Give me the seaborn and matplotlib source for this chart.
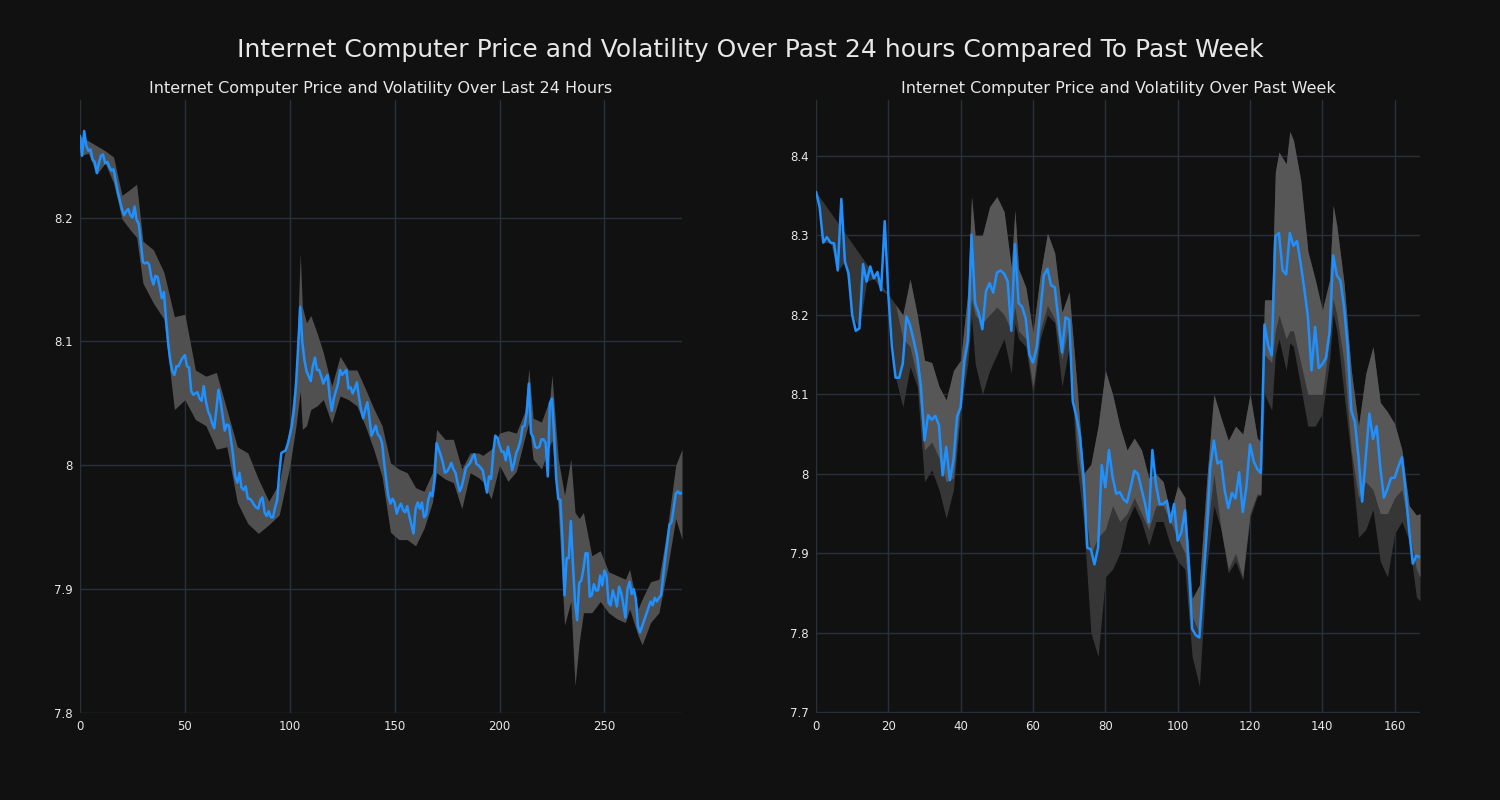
import matplotlib
matplotlib.use("Agg")
import matplotlib.pyplot as plt
from matplotlib.ticker import FuncFormatter
import seaborn as sns
import numpy as np
import pandas as pd

# ---------------- data ----------------
main_title = "Internet Computer Price and Volatility Over Past 24 hours Compared To Past Week"
title_24h = "Internet Computer Price and Volatility Over Last 24 Hours"
title_week = "Internet Computer Price and Volatility Over Past Week"

price_24h = [
    8.266, 8.250, 8.270, 8.258, 8.254, 8.255, 8.247, 8.245, 8.236, 8.244,
    8.250, 8.251, 8.244, 8.245, 8.241, 8.238, 8.239, 8.230, 8.221, 8.214,
    8.207, 8.202, 8.205, 8.207, 8.202, 8.200, 8.209, 8.198, 8.195, 8.180,
    8.164, 8.163, 8.164, 8.162, 8.152, 8.146, 8.153, 8.152, 8.144, 8.135,
    8.140, 8.118, 8.099, 8.085, 8.076, 8.073, 8.080, 8.080, 8.084, 8.087,
    8.089, 8.080, 8.079, 8.060, 8.057, 8.058, 8.059, 8.054, 8.052, 8.064,
    8.052, 8.044, 8.040, 8.034, 8.030, 8.045, 8.061, 8.052, 8.040, 8.028,
    8.033, 8.032, 8.020, 8.008, 7.991, 7.986, 7.994, 7.982, 7.980, 7.983,
    7.973, 7.973, 7.971, 7.968, 7.966, 7.965, 7.972, 7.974, 7.962, 7.959,
    7.963, 7.958, 7.958, 7.966, 7.972, 7.994, 8.010, 8.011, 8.012, 8.017,
    8.024, 8.032, 8.045, 8.066, 8.096, 8.128, 8.099, 8.085, 8.076, 8.072,
    8.068, 8.080, 8.087, 8.077, 8.077, 8.072, 8.066, 8.070, 8.073, 8.056,
    8.044, 8.054, 8.060, 8.066, 8.077, 8.073, 8.075, 8.077, 8.062, 8.063,
    8.058, 8.062, 8.067, 8.055, 8.045, 8.038, 8.045, 8.051, 8.038, 8.024,
    8.028, 8.032, 8.025, 8.023, 8.018, 8.002, 7.988, 7.975, 7.969, 7.973,
    7.970, 7.961, 7.966, 7.969, 7.964, 7.962, 7.967, 7.959, 7.952, 7.945,
    7.965, 7.970, 7.965, 7.970, 7.958, 7.960, 7.972, 7.978, 7.975, 7.989,
    8.018, 8.013, 8.008, 8.002, 7.994, 7.995, 7.998, 8.002, 7.997, 7.994,
    7.986, 7.979, 7.983, 7.990, 7.998, 8.000, 8.002, 8.006, 8.009, 8.001,
    8.000, 7.998, 7.996, 7.987, 7.978, 7.991, 7.989, 8.010, 8.024, 8.022,
    8.016, 8.011, 8.011, 8.004, 8.015, 8.007, 7.996, 8.002, 8.010, 8.014,
    8.020, 8.031, 8.032, 8.043, 8.066, 8.026, 8.023, 8.015, 8.014, 8.015,
    8.021, 8.021, 8.018, 7.991, 8.050, 8.054, 8.026, 7.990, 7.973, 7.972,
    7.940, 7.895, 7.925, 7.925, 7.955, 7.920, 7.890, 7.875, 7.905, 7.907,
    7.916, 7.929, 7.929, 7.894, 7.895, 7.904, 7.899, 7.899, 7.911, 7.903,
    7.915, 7.911, 7.889, 7.887, 7.899, 7.893, 7.886, 7.902, 7.897, 7.888,
    7.877, 7.900, 7.906, 7.896, 7.900, 7.892, 7.870, 7.865, 7.870, 7.875,
    7.880, 7.885, 7.890, 7.887, 7.893, 7.890, 7.893, 7.895, 7.910, 7.925,
    7.938, 7.952, 7.954, 7.965, 7.977, 7.979, 7.977, 7.978,
]

band_x_24h = [0, 4, 8, 12, 16, 20, 24, 27, 30, 35, 40, 45, 50, 55, 60, 65, 70,
              75, 80, 85, 90, 95, 100, 103, 105, 106, 108, 110, 113, 116, 120,
              124, 128, 132, 136, 140, 144, 148, 152, 156, 160, 164, 168, 170,
              174, 178, 182, 186, 190, 192, 196, 200, 204, 208, 212, 214, 216,
              220, 224, 225, 228, 231, 234, 236, 238, 240, 244, 248, 252, 256,
              260, 262, 266, 268, 272, 276, 280, 284, 287]
band_hi_24h = [8.266, 8.262, 8.258, 8.254, 8.249, 8.218, 8.223, 8.227, 8.181,
               8.174, 8.156, 8.120, 8.122, 8.077, 8.072, 8.075, 8.045, 8.015,
               8.010, 7.989, 7.971, 7.986, 8.032, 8.075, 8.171, 8.128, 8.115,
               8.121, 8.107, 8.091, 8.064, 8.088, 8.077, 8.077, 8.062, 8.046,
               8.032, 8.002, 7.997, 7.994, 7.982, 7.979, 7.994, 8.029, 8.021,
               8.021, 7.997, 8.010, 8.010, 8.008, 8.013, 8.026, 8.028, 8.026,
               8.043, 8.078, 8.038, 8.035, 8.054, 8.073, 8.005, 7.976, 8.005,
               7.962, 7.957, 7.962, 7.927, 7.931, 7.914, 7.911, 7.908, 7.916,
               7.884, 7.892, 7.906, 7.908, 7.949, 8.000, 8.013]
band_lo_24h = [8.250, 8.252, 8.235, 8.244, 8.228, 8.199, 8.190, 8.184, 8.147,
               8.131, 8.118, 8.045, 8.053, 8.037, 8.032, 8.013, 8.015, 7.970,
               7.953, 7.945, 7.952, 7.960, 7.999, 8.032, 8.060, 8.029, 8.032,
               8.045, 8.048, 8.053, 8.034, 8.056, 8.053, 8.048, 8.032, 8.013,
               7.991, 7.946, 7.940, 7.940, 7.935, 7.949, 7.970, 7.994, 7.989,
               7.986, 7.965, 7.994, 7.990, 7.987, 7.973, 8.000, 7.987, 7.995,
               8.022, 8.035, 8.005, 7.997, 8.016, 8.020, 7.965, 7.871, 7.890,
               7.822, 7.857, 7.881, 7.881, 7.890, 7.881, 7.876, 7.873, 7.884,
               7.863, 7.855, 7.873, 7.881, 7.916, 7.957, 7.940]

price_week = [
    8.355, 8.336, 8.291, 8.298, 8.291, 8.290, 8.256, 8.346, 8.267, 8.252,
    8.200, 8.180, 8.183, 8.264, 8.242, 8.261, 8.246, 8.254, 8.231, 8.318,
    8.225, 8.160, 8.121, 8.121, 8.139, 8.198, 8.187, 8.168, 8.147, 8.110,
    8.042, 8.074, 8.068, 8.073, 8.061, 7.998, 8.034, 7.992, 8.017, 8.072,
    8.084, 8.143, 8.168, 8.301, 8.215, 8.202, 8.182, 8.230, 8.240, 8.228,
    8.253, 8.256, 8.252, 8.242, 8.180, 8.289, 8.215, 8.210, 8.195, 8.150,
    8.140, 8.159, 8.203, 8.250, 8.258, 8.237, 8.235, 8.195, 8.153, 8.197,
    8.194, 8.091, 8.072, 8.047, 7.996, 7.907, 7.905, 7.886, 7.907, 8.011,
    7.983, 8.030, 7.996, 7.975, 7.977, 7.968, 7.964, 7.983, 8.004, 8.000,
    7.981, 7.962, 7.939, 8.030, 7.987, 7.962, 7.962, 7.966, 7.939, 7.962,
    7.916, 7.926, 7.954, 7.890, 7.805, 7.797, 7.794, 7.860, 7.924, 8.008,
    8.042, 8.013, 8.016, 7.979, 7.957, 7.976, 7.969, 8.002, 7.952, 7.984,
    8.037, 8.016, 8.006, 8.001, 8.188, 8.162, 8.149, 8.299, 8.303, 8.256,
    8.251, 8.303, 8.287, 8.293, 8.265, 8.233, 8.198, 8.130, 8.185, 8.133,
    8.138, 8.146, 8.179, 8.275, 8.250, 8.243, 8.210, 8.160, 8.080, 8.065,
    8.021, 7.965, 8.021, 8.076, 8.044, 8.060, 8.009, 7.970, 7.981, 7.995,
    7.995, 8.009, 8.021, 7.979, 7.929, 7.887, 7.897, 7.895,
]

band_x_week = [0, 2, 4, 6, 8, 10, 12, 14, 16, 18, 20, 22, 24, 26, 28, 30, 32,
               34, 36, 38, 40, 42, 43, 44, 46, 48, 50, 52, 54, 55, 56, 58, 60,
               62, 64, 66, 68, 70, 72, 74, 76, 78, 80, 82, 84, 86, 88, 90, 92,
               94, 96, 98, 100, 102, 104, 106, 108, 110, 112, 114, 116, 118,
               120, 122, 123, 124, 126, 127, 128, 130, 131, 132, 134, 136, 138,
               140, 142, 143, 144, 146, 148, 150, 152, 154, 156, 158, 160, 162,
               164, 166, 167]
band_hi_week = [8.355, 8.342, 8.329, 8.316, 8.303, 8.290, 8.277, 8.264, 8.251,
                8.238, 8.226, 8.213, 8.200, 8.245, 8.200, 8.143, 8.140, 8.110,
                8.093, 8.130, 8.143, 8.230, 8.349, 8.300, 8.300, 8.336, 8.349,
                8.330, 8.260, 8.332, 8.258, 8.235, 8.178, 8.250, 8.303, 8.278,
                8.203, 8.229, 8.119, 8.000, 8.012, 8.060, 8.130, 8.100, 8.060,
                8.030, 8.045, 8.030, 7.995, 8.000, 7.990, 7.950, 7.985, 7.970,
                7.843, 7.860, 7.990, 8.100, 8.070, 8.042, 8.060, 8.050, 8.100,
                8.045, 8.040, 8.219, 8.219, 8.380, 8.405, 8.390, 8.431, 8.420,
                8.370, 8.280, 8.245, 8.206, 8.244, 8.338, 8.312, 8.240, 8.130,
                8.060, 8.126, 8.160, 8.090, 8.078, 8.063, 8.030, 7.960, 7.948,
                7.950]
band_mid_week = [8.355, 8.342, 8.329, 8.316, 8.303, 8.290, 8.277, 8.264, 8.251,
                 8.238, 8.226, 8.213, 8.170, 8.160, 8.120, 8.030, 8.040, 8.020,
                 7.990, 7.995, 8.095, 8.160, 8.220, 8.200, 8.190, 8.200, 8.210,
                 8.200, 8.180, 8.210, 8.180, 8.170, 8.110, 8.180, 8.212, 8.195,
                 8.144, 8.190, 8.042, 7.970, 7.900, 7.920, 7.930, 7.960, 7.940,
                 7.950, 7.970, 7.950, 7.930, 7.960, 7.960, 7.940, 7.920, 7.900,
                 7.820, 7.800, 7.920, 8.000, 7.930, 7.880, 7.900, 7.870, 7.950,
                 7.975, 7.974, 8.150, 8.140, 8.180, 8.200, 8.170, 8.180, 8.180,
                 8.140, 8.100, 8.100, 8.100, 8.170, 8.220, 8.200, 8.140, 8.030,
                 7.970, 7.990, 7.980, 7.950, 7.950, 7.970, 7.980, 7.930, 7.880,
                 7.870]
band_lo_week = [8.355, 8.291, 8.291, 8.256, 8.267, 8.200, 8.183, 8.242, 8.246,
                8.231, 8.225, 8.121, 8.084, 8.135, 8.110, 7.990, 8.005, 7.980,
                7.944, 7.980, 8.080, 8.140, 8.198, 8.139, 8.100, 8.130, 8.150,
                8.170, 8.126, 8.189, 8.170, 8.160, 8.100, 8.170, 8.200, 8.190,
                8.110, 8.160, 8.017, 7.940, 7.800, 7.770, 7.870, 7.880, 7.900,
                7.940, 7.960, 7.940, 7.910, 7.940, 7.940, 7.910, 7.890, 7.880,
                7.770, 7.733, 7.880, 7.960, 7.930, 7.875, 7.890, 7.866, 7.945,
                7.972, 7.973, 8.100, 8.080, 8.150, 8.170, 8.130, 8.165, 8.160,
                8.110, 8.060, 8.060, 8.076, 8.143, 8.202, 8.180, 8.100, 8.020,
                7.920, 7.930, 7.955, 7.890, 7.870, 7.925, 7.940, 7.916, 7.845,
                7.840]

x_ticks_24h = [0, 50, 100, 150, 200, 250]
y_ticks_24h = [7.8, 7.9, 8.0, 8.1, 8.2]
x_ticks_week = [0, 20, 40, 60, 80, 100, 120, 140, 160]
y_ticks_week = [7.7, 7.8, 7.9, 8.0, 8.1, 8.2, 8.3, 8.4]

# ---------------- style ----------------
BG = "#111111"
GRID = "#27303c"
LINE = "#1e90ff"
TEXT = "#e8e8e8"

sns.set_theme(style="darkgrid")
plt.rcParams["font.family"] = ["DejaVu Sans"]

fig = plt.figure(figsize=(15, 8), dpi=100, facecolor=BG)
ax1 = fig.add_axes([80 / 1500, 87 / 800, 602 / 1500, 613 / 800])
ax2 = fig.add_axes([816 / 1500, 87 / 800, 604 / 1500, 613 / 800])

df24 = pd.DataFrame({"t": np.arange(len(price_24h)), "price": price_24h})
dfw = pd.DataFrame({"t": np.arange(len(price_week)), "price": price_week})

# left panel
ax1.fill_between(band_x_24h, band_lo_24h, band_hi_24h, color="#505050",
                 linewidth=0, zorder=2)
sns.lineplot(data=df24, x="t", y="price", ax=ax1, color=LINE, linewidth=1.8,
             zorder=3)

# right panel
ax2.fill_between(band_x_week, band_lo_week, band_hi_week, color="#363636",
                 linewidth=0, zorder=2)
ax2.fill_between(band_x_week, band_mid_week, band_hi_week, color="#575757",
                 linewidth=0, zorder=2)
sns.lineplot(data=dfw, x="t", y="price", ax=ax2, color=LINE, linewidth=1.8,
             zorder=3)

fmt = FuncFormatter(lambda v, p: f"{round(v, 4):g}")
for ax, title, xt, yt, xl, yl in [
    (ax1, title_24h, x_ticks_24h, y_ticks_24h, (0, 287), (7.8, 8.295)),
    (ax2, title_week, x_ticks_week, y_ticks_week, (0, 167), (7.699, 8.4705)),
]:
    ax.set_facecolor(BG)
    ax.set_xlim(*xl)
    ax.set_ylim(*yl)
    ax.set_xticks(xt)
    ax.set_yticks(yt)
    ax.yaxis.set_major_formatter(fmt)
    ax.grid(True, color=GRID, linewidth=1.0, zorder=0)
    ax.set_axisbelow(True)
    for s in ax.spines.values():
        s.set_visible(False)
    ax.tick_params(colors=TEXT, labelsize=8.5, length=0, pad=5)
    ax.set_xlabel("")
    ax.set_ylabel("")
    ax.set_title(title, color=TEXT, fontsize=11.5, pad=5)

fig.suptitle(main_title, color=TEXT, fontsize=18, y=0.9375, va="center")

fig.savefig("out.png", dpi=100, facecolor=BG)
